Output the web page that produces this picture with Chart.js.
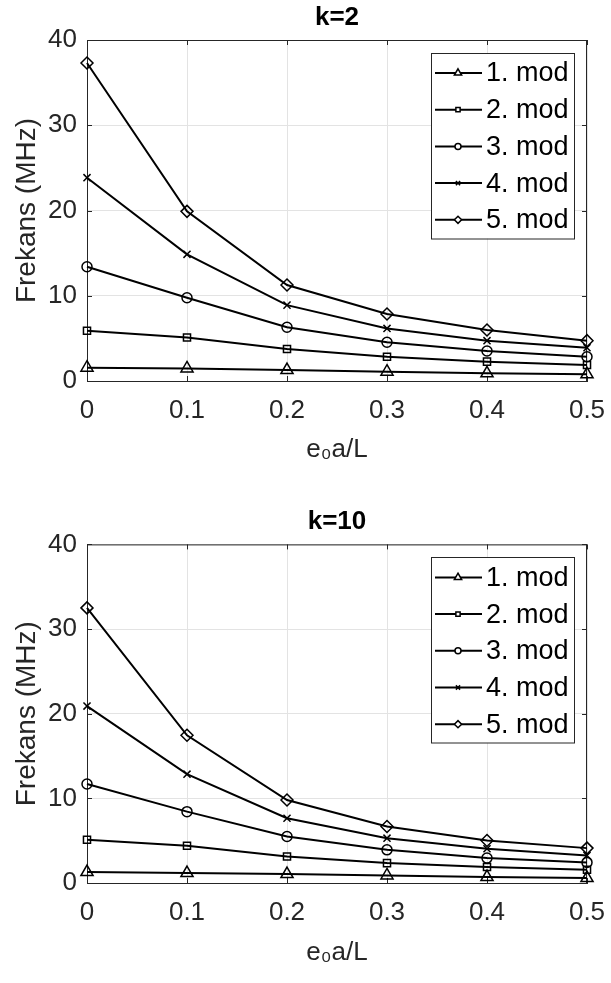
<!DOCTYPE html>
<html>
<head>
<meta charset="utf-8">
<title>Frekans - e0a/L</title>
<script src="https://cdn.jsdelivr.net/npm/chart.js@4.4.1/dist/chart.umd.min.js"></script>
<style>
    html, body { margin: 0; padding: 0; background: #fff; }
    canvas { display: block; }
</style>
</head>
<body>
<canvas id="chartK2" width="611" height="480"></canvas>
<canvas id="chartK10" width="611" height="503"></canvas>
<script>
// Eksen değerleri
const eValues = [0, 0.1, 0.2, 0.3, 0.4, 0.5];
const xTickLabels = ['0', '0.1', '0.2', '0.3', '0.4', '0.5'];
const yTickLabels = ['0', '10', '20', '30', '40'];
const modeLabels = ['1. mod', '2. mod', '3. mod', '4. mod', '5. mod'];

// k=2
const k2Mode1 = [1.56, 1.48, 1.29, 1.09, 0.90, 0.78];
const k2Mode2 = [5.9, 5.1, 3.75, 2.85, 2.27, 1.88];
const k2Mode3 = [13.4, 9.77, 6.3, 4.54, 3.52, 2.85];
const k2Mode4 = [23.85, 14.86, 8.9, 6.17, 4.73, 3.9];
const k2Mode5 = [37.3, 19.9, 11.26, 7.86, 5.98, 4.73];

// k=10
const k10Mode1 = [1.29, 1.18, 1.06, 0.9, 0.7, 0.59];
const k10Mode2 = [5.1, 4.39, 3.14, 2.35, 1.88, 1.57];
const k10Mode3 = [11.7, 8.43, 5.49, 3.92, 2.94, 2.43];
const k10Mode4 = [20.9, 12.86, 7.65, 5.3, 4.04, 3.25];
const k10Mode5 = [32.5, 17.45, 9.8, 6.67, 5.02, 4.12];

// MATLAB tarzı işaretler
const markers = [
    { style: 'triangle', radius: 7 },
    { style: 'rect', radius: 5 },
    { style: 'circle', radius: 5 },
    { style: 'crossRot', radius: 5 },
    { style: 'rectRot', radius: 6 }
];

const FONT = "'Liberation Sans', Arial, Helvetica, sans-serif";
const axisColor = '#262626';
const gridColor = '#e3e3e3';

// Kutu çerçevesi, iç tikler ve lejant
const matlabFrame = {
    id: 'matlabFrame',
    beforeDatasetsDraw(chart) {
        const { ctx, chartArea: a, scales } = chart;
        ctx.save();
        ctx.strokeStyle = axisColor;
        ctx.lineWidth = 1;
        ctx.beginPath();
        ctx.moveTo(a.left, a.top + 0.5);
        ctx.lineTo(a.right, a.top + 0.5);
        ctx.moveTo(a.right - 0.5, a.top);
        ctx.lineTo(a.right - 0.5, a.bottom);
        // iç tikler
        scales.x.ticks.forEach(t => {
            const px = Math.round(scales.x.getPixelForValue(t.value)) + 0.5;
            ctx.moveTo(px, a.bottom); ctx.lineTo(px, a.bottom - 5);
            ctx.moveTo(px, a.top); ctx.lineTo(px, a.top + 5);
        });
        scales.y.ticks.forEach(t => {
            const py = Math.round(scales.y.getPixelForValue(t.value)) + 0.5;
            ctx.moveTo(a.left, py); ctx.lineTo(a.left + 5, py);
            ctx.moveTo(a.right, py); ctx.lineTo(a.right - 5, py);
        });
        ctx.stroke();
        ctx.restore();
    },
    afterDatasetsDraw(chart) {
        const { ctx, chartArea: a } = chart;
        const boxW = 143, rowH = 36.7, boxH = rowH * 5 + 2;
        const bx = a.right - 13 - boxW, by = a.top + 13;
        ctx.save();
        ctx.fillStyle = '#fff';
        ctx.fillRect(bx, by, boxW, boxH);
        ctx.strokeStyle = axisColor;
        ctx.lineWidth = 1;
        ctx.strokeRect(Math.round(bx) + 0.5, Math.round(by) + 0.5, boxW, boxH);
        chart.data.datasets.forEach((ds, i) => {
            const cy = by + 20 + i * rowH;
            ctx.strokeStyle = '#000';
            ctx.lineWidth = 2;
            ctx.beginPath();
            ctx.moveTo(bx + 4, cy);
            ctx.lineTo(bx + 51, cy);
            ctx.stroke();
            ctx.fillStyle = '#fff';
            ctx.lineWidth = 1.5;
            Chart.helpers.drawPoint(ctx, {
                pointStyle: ds.pointStyle,
                radius: ds.pointRadius * 0.6,
                borderWidth: 1.5,
                rotation: 0
            }, bx + 27, cy);
            ctx.fillStyle = '#000';
            ctx.font = '27px ' + FONT;
            ctx.textBaseline = 'middle';
            ctx.textAlign = 'left';
            ctx.fillText(ds.label, bx + 55, cy + 1);
        });
        ctx.restore();
    }
};

function makeChart(canvasId, titleText, seriesList, titleTop, xAxisHeight) {
    const datasets = seriesList.map((values, i) => ({
        label: modeLabels[i],
        data: values.map((v, j) => ({ x: eValues[j], y: v })),
        borderColor: '#000',
        backgroundColor: 'rgba(0,0,0,0)',
        borderWidth: 2,
        pointStyle: markers[i].style,
        pointRadius: markers[i].radius,
        pointBorderWidth: 1.5,
        pointBorderColor: '#000',
        pointBackgroundColor: 'rgba(0,0,0,0)',
        tension: 0,
        clip: false
    }));

    return new Chart(document.getElementById(canvasId), {
        type: 'line',
        data: { datasets },
        options: {
            responsive: false,
            animation: false,
            events: [],
            layout: { padding: { left: 0, right: 24, top: 0, bottom: 0 } },
            plugins: {
                legend: { display: false },
                tooltip: { enabled: false },
                title: {
                    display: true,
                    text: titleText,
                    fullSize: false,
                    color: '#000',
                    font: { family: FONT, size: 26, weight: 'bold', lineHeight: 1.2 },
                    padding: { top: titleTop, bottom: 6.8 }
                }
            },
            scales: {
                x: {
                    type: 'linear',
                    min: 0,
                    max: 0.5,
                    afterFit: s => { s.height = xAxisHeight; },
                    afterBuildTicks: s => { s.ticks = eValues.map(v => ({ value: v })); },
                    ticks: {
                        color: axisColor,
                        font: { family: FONT, size: 26 },
                        padding: 0,
                        maxRotation: 0,
                        callback: (v, idx) => xTickLabels[idx]
                    },
                    grid: { color: gridColor, drawTicks: true, tickLength: 14, tickColor: 'rgba(0,0,0,0)' },
                    border: { color: axisColor, width: 1 },
                    title: {
                        display: true,
                        text: 'e₀a/L',
                        color: axisColor,
                        font: { family: FONT, size: 26, lineHeight: 1.2 },
                        padding: { top: 0, bottom: 15 }
                    }
                },
                y: {
                    min: 0,
                    max: 40,
                    afterFit: s => { s.width = 87; },
                    ticks: {
                        stepSize: 10,
                        color: axisColor,
                        font: { family: FONT, size: 26 },
                        padding: 0,
                        callback: (v, idx) => yTickLabels[idx]
                    },
                    grid: { color: gridColor, drawTicks: true, tickLength: 10, tickColor: 'rgba(0,0,0,0)' },
                    border: { color: axisColor, width: 1 },
                    title: {
                        display: true,
                        text: 'Frekans (MHz)',
                        color: axisColor,
                        font: { family: FONT, size: 28, lineHeight: 1.2 },
                        padding: { top: 10, bottom: 0 }
                    }
                }
            }
        },
        plugins: [matlabFrame]
    });
}

makeChart('chartK2', 'k=2', [k2Mode1, k2Mode2, k2Mode3, k2Mode4, k2Mode5], 2, 99);
makeChart('chartK10', 'k=10', [k10Mode1, k10Mode2, k10Mode3, k10Mode4, k10Mode5], 26.4, 100);
</script>
</body>
</html>
